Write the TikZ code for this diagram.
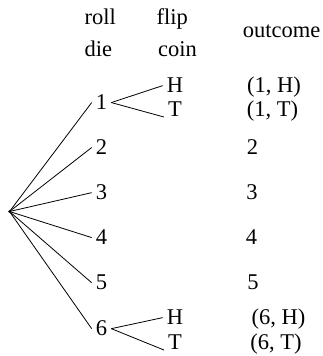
\documentclass[tikz,border=0pt]{standalone}
\usepackage{fontspec}
\setmainfont{Liberation Serif}
\usetikzlibrary{positioning}
\tikzset{
  head/.style={font=\fontsize{22.5}{27}\selectfont, inner sep=0pt, anchor=base west},
  digit/.style={font=\fontsize{22.5}{27}\selectfont, inner xsep=4pt, inner ysep=2pt, anchor=base},
  result/.style={font=\fontsize{22.5}{27}\selectfont, inner sep=0pt, anchor=base},
  root/.style={circle, fill=black, inner sep=0pt, minimum size=2.6pt},
  branch/.style={line width=0.8pt, draw=black}
}
\begin{document}
\begin{tikzpicture}[x=1pt, y=1pt]
  \useasboundingbox (0,0) rectangle (323,356);
  % column heads
  \node[head] (roll) at (84.5,331) {roll};
  \node[head] (die) at (84.5,299) {die};
  \node[head] (flip) at (156.5,331) {flip};
  \node[head] (coin) at (158,299) {coin};
  \node[result] (outc) at (281.5,318) {outcome};

  % die
  \node[root] (root) at (9.5,144.5) {};
  \node[digit] (d1) at (101.5,246) {1};
  \node[digit] (d2) at (101.5,201) {2};
  \node[digit] (d3) at (101.5,156) {3};
  \node[digit] (d4) at (101.5,111) {4};
  \node[digit] (d5) at (101.5,66) {5};
  \node[digit] (d6) at (101.5,20) {6};

  % coin
  \node[digit] (h1) at (175,263) {H};
  \node[digit] (t1) at (175,239) {T};
  \node[digit] (h6) at (175,31) {H};
  \node[digit] (t6) at (175,6) {T};

  % outcomes
  \node[result] (o1h) at (274,263) {(1, H)};
  \node[result] (o1t) at (272.5,239) {(1, T)};
  \node[result] (o2) at (252.5,201) {2};
  \node[result] (o3) at (252,156) {3};
  \node[result] (o4) at (251.5,111) {4};
  \node[result] (o5) at (253,66) {5};
  \node[result] (o6h) at (278.5,31) {(6, H)};
  \node[result] (o6t) at (276,6) {(6, T)};

  \draw[branch] (root.center) -- (d1.west);
  \draw[branch] (root.center) -- (d2.west);
  \draw[branch] (root.center) -- (d3.west);
  \draw[branch] (root.center) -- (d4.west);
  \draw[branch] (root.center) -- (d5.west);
  \draw[branch] (root.center) -- (d6.west);
  \draw[branch] (d1.east) -- (h1.west);
  \draw[branch] (d1.east) -- (t1.base west);
  \draw[branch] (d6.east) -- (h6.west);
  \draw[branch] (d6.east) -- (t6.base west);
\end{tikzpicture}
\end{document}
